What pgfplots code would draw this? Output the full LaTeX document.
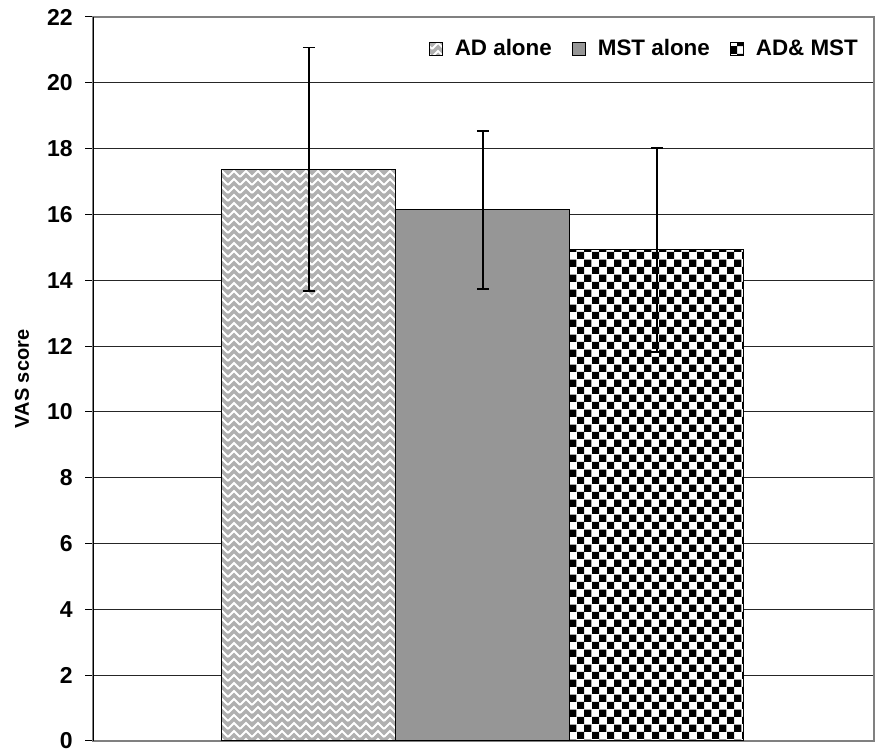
\documentclass[border=0pt]{standalone}
\usepackage{fontspec}
\setmainfont{Liberation Sans}
\usepackage{pgfplots}
\pgfplotsset{compat=1.18}
\usetikzlibrary{patterns}

\pgfdeclarepatternformonly{xchecker}{\pgfpointorigin}{\pgfpoint{7.6pt}{7.6pt}}{\pgfpoint{7.6pt}{7.6pt}}{%
  \pgfpathrectangle{\pgfpointorigin}{\pgfpoint{3.8pt}{3.8pt}}%
  \pgfpathrectangle{\pgfpoint{3.8pt}{3.8pt}}{\pgfpoint{3.8pt}{3.8pt}}%
  \pgfusepath{fill}}

\pgfdeclarepatternformonly{weave}{\pgfpoint{-1pt}{-1pt}}{\pgfpoint{7pt}{5pt}}{\pgfpoint{6pt}{4pt}}{%
  \pgfsetlinewidth{0.9pt}%
  \pgfpathmoveto{\pgfpoint{0pt}{0pt}}%
  \pgfpathlineto{\pgfpoint{3pt}{3pt}}%
  \pgfpathlineto{\pgfpoint{6pt}{0pt}}%
  \pgfusepath{stroke}}

\pgfplotsset{sqlegend/.style={/pgfplots/legend image code/.code={%
     \draw[##1, line width=0.5pt] (0pt,-3.25pt) rectangle (6.5pt,3.25pt);}}}

\begin{document}
\begin{tikzpicture}
\begin{axis}[
  scale only axis, width=390.5pt, height=362pt,
  xmin=-0.241, xmax=4.248, ymin=0, ymax=22,
  ytick={0,2,...,22}, xtick=\empty, ytick pos=left,
  ybar, bar width=1, bar shift=0pt,
  ymajorgrids, major grid style={black!85, line width=0.5pt},
  axis line style={gray, line width=0.75pt},
  tick align=outside, major tick length=4pt,
  ytick style={black, line width=0.5pt},
  /pgf/number format/assume math mode=true,
  y tick label style={font=\bfseries\fontsize{11.5}{13}\selectfont, inner sep=0pt, xshift=-6pt},
  ylabel={VAS score},
  ylabel style={font=\bfseries\fontsize{10}{12}\selectfont, at={(axis description cs:-0.0909,0.5)}, anchor=center},
  legend style={draw=none, fill=none, at={(axis description cs:0.985,0.9558)}, anchor=east,
    legend columns=3, font=\bfseries\fontsize{11.2}{13}\selectfont, inner sep=0pt,
    /tikz/every odd column/.append style={column sep=4pt},
    /tikz/every even column/.append style={column sep=8pt}},
  error bars/error bar style={black, line width=0.75pt},
  error bars/error mark options={black, line width=0.75pt, mark size=3pt, rotate=90},
]
\addplot[draw=black, line width=0.5pt, fill=gray!62, postaction={pattern=weave, pattern color=white},
  sqlegend, error bars/.cd, y dir=both, y explicit]
  coordinates {(1,17.38) +- (0,3.7)};
\addlegendentry{AD alone}
\addplot[draw=black, line width=0.5pt, fill={rgb,255:red,150;green,150;blue,150},
  sqlegend, error bars/.cd, y dir=both, y explicit]
  coordinates {(2,16.14) +- (0,2.4)};
\addlegendentry{MST alone}
\addplot[draw=black, line width=0.5pt, fill=white, postaction={pattern=xchecker, pattern color=black},
  sqlegend, error bars/.cd, y dir=both, y explicit]
  coordinates {(3,14.92) +- (0,3.1)};
\addlegendentry{AD\& MST}
\draw[black, line width=0.75pt] (rel axis cs:0,0) -- (rel axis cs:0,1);
\coordinate (bl) at (rel axis cs:0,0);
\coordinate (tr) at (rel axis cs:1,1);
\end{axis}
\pgfresetboundingbox
\path[use as bounding box] ([shift={(-46.5pt,-6pt)}]bl) rectangle ([shift={(3.5pt,8.5pt)}]tr);
\end{tikzpicture}
\end{document}
